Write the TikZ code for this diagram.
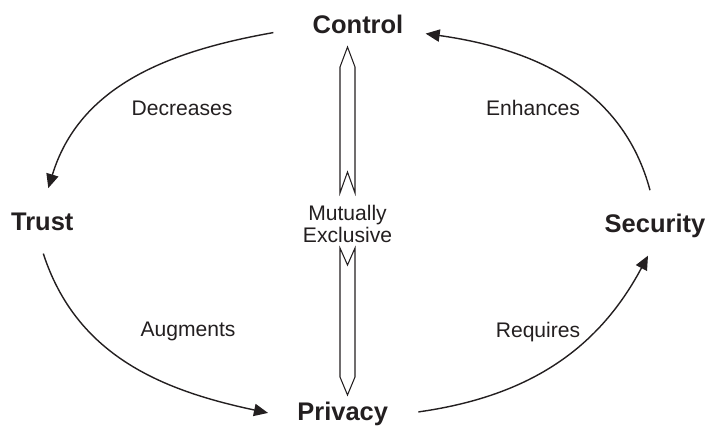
\documentclass[tikz,border=0pt]{standalone}
\usepackage{fontspec}
\setmainfont{Liberation Sans}
\usetikzlibrary{arrows.meta}
\definecolor{ink}{HTML}{231F20}

\begin{document}
\begin{tikzpicture}[x=0.02cm,y=-0.02cm,
    concept/.style={font=\fontsize{14.5}{17}\selectfont\bfseries, text=ink, inner sep=0pt, anchor=base},
    effect/.style={font=\fontsize{12}{14}\selectfont, text=ink, inner sep=0pt},
    flow/.style={draw=ink, line width=0.8pt, -{Triangle[length=8pt,width=7pt]}},
    shaft/.style={draw=ink, line width=0.6pt, line join=miter}]
        \useasboundingbox (0,0) rectangle (706,429);

        % the four concepts
        \node [concept] (control) at (358,34) {Control};
        \node [concept] (trust) at (42.3,230) {Trust};
        \node [concept] (security) at (655,232) {Security};
        \node [concept] (privacy) at (342.7,420) {Privacy};

        % double arrow split by its label
        \node [effect, align=center, font=\fontsize{12}{12.5}\selectfont] (mutex) at (347.5,224) {Mutually\\Exclusive};
        \coordinate (uptip) at (347.5,47);
        \coordinate (downtip) at (347.5,395);
        \draw [shaft] (uptip) -- ++(7.5,20) -- ++(0,126) -- ++(-7.5,-21) -- ++(-7.5,21) -- ++(0,-126) -- cycle;
        \draw [shaft] (downtip) -- ++(7.5,-18) -- ++(0,-129) -- ++(-7.5,17) -- ++(-7.5,-17) -- ++(0,129) -- cycle;

        % the cycle
        \draw [flow] ([shift={(-39,-2)}]control.south west) to [out=190, in=73] ([shift={(6,-24)}]trust.north);
        \draw [flow] ([shift={(1,23)}]trust.south) to [out=-72, in=168] ([shift={(-29,-0.5)}]privacy.west);
        \draw [flow] ([shift={(30,-1.5)}]privacy.east) to [out=8, in=-118] ([shift={(-7,18)}]security.south);
        \draw [flow] ([shift={(-5,-23)}]security.north) to [out=105, in=-8] ([shift={(22,-1)}]control.south east);

        % what each arc means
        \node [effect] (decreases) at (182,108) {Decreases};
        \node [effect] (enhances) at (533,108) {Enhances};
        \node [effect, anchor=base] (augments) at (188,336) {Augments};
        \node [effect, anchor=base] (requires) at (538,337) {Requires};
    \end{tikzpicture}
\end{document}
